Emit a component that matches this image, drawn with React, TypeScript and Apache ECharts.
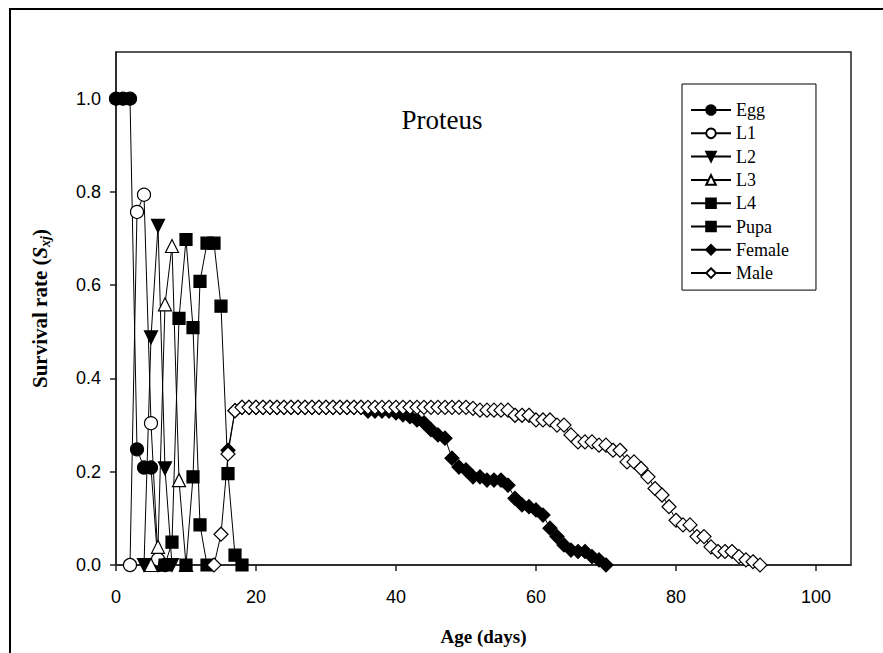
import React, { useEffect, useRef } from "react";
import * as echarts from "echarts";

// ---- data ----
const stageNames = ["Egg", "L1", "L2", "L3", "L4", "Pupa", "Female", "Male"];

const eggDays = [0, 1, 2, 3, 4, 5, 6];
const eggValues = [1, 1, 1, 0.248, 0.209, 0.209, 0];

const l1Days = [2, 3, 4, 5, 6, 7];
const l1Values = [0, 0.757, 0.794, 0.304, 0.012, 0];

const l2Days = [4, 5, 6, 7, 8];
const l2Values = [0, 0.488, 0.727, 0.207, 0];

const l3Days = [5, 6, 7, 8, 9, 10];
const l3Values = [0, 0.039, 0.559, 0.684, 0.182, 0];

const l4Days = [7, 8, 9, 10, 11, 12, 13];
const l4Values = [0, 0.049, 0.529, 0.698, 0.509, 0.086, 0];

const pupaDays = [10, 11, 12, 13, 14, 15, 16, 17, 18];
const pupaValues = [0, 0.189, 0.608, 0.69, 0.69, 0.555, 0.196, 0.021, 0];

const femaleStartDay = 16;
const femaleValues = [
  0.246, 0.331,
  0.338, 0.338, 0.338, 0.338, 0.338, 0.338, 0.338, 0.338, 0.338,
  0.338, 0.338, 0.338, 0.338, 0.338, 0.338, 0.338, 0.338, 0.338,
  0.33, 0.33, 0.33, 0.33, 0.326, 0.322, 0.318, 0.311, 0.305, 0.29,
  0.279, 0.272, 0.229, 0.21, 0.204, 0.189, 0.189, 0.182, 0.182, 0.182,
  0.171, 0.143, 0.129, 0.125, 0.118, 0.107, 0.079, 0.061, 0.043, 0.032,
  0.029, 0.029, 0.018, 0.011, 0,
];

const maleStartDay = 14;
const maleValues = [
  0, 0.066, 0.238, 0.331,
  0.338, 0.338, 0.338, 0.338, 0.338, 0.338, 0.338, 0.338, 0.338, 0.338, 0.338,
  0.338, 0.338, 0.338, 0.338, 0.338, 0.338, 0.338, 0.338, 0.338, 0.338, 0.338,
  0.338, 0.338, 0.338, 0.338, 0.338, 0.338, 0.338, 0.338, 0.338, 0.338, 0.338,
  0.336, 0.332, 0.332, 0.332, 0.332, 0.332, 0.321, 0.321, 0.321, 0.311,
  0.311, 0.311, 0.3, 0.3, 0.279, 0.264, 0.264, 0.264, 0.257, 0.257,
  0.246, 0.246, 0.221, 0.221, 0.207, 0.189, 0.164, 0.15, 0.125, 0.096,
  0.086, 0.086, 0.061, 0.061, 0.039, 0.029, 0.029, 0.029, 0.018, 0.011,
  0.007, 0,
];

const xTicks = [0, 20, 40, 60, 80, 100];
const yTicks = [0, 0.2, 0.4, 0.6, 0.8, 1.0];

const SERIF = "'Liberation Serif', 'Times New Roman', serif";
const SANS = "'Liberation Sans', Arial, sans-serif";

function pairs(days: number[], values: number[]) {
  return days.map((d, i) => [d, values[i]]);
}
function runPairs(start: number, values: number[]) {
  return values.map((v, i) => [start + i, v]);
}

function makeSeries(
  name: string,
  data: number[][],
  symbol: string,
  filled: boolean,
  size: number,
  rotate = 0
) {
  return {
    name,
    type: "line",
    data,
    symbol,
    symbolSize: size,
    symbolRotate: rotate,
    showAllSymbol: true,
    lineStyle: { color: "#000", width: 1 },
    itemStyle: {
      color: filled ? "#000" : "#fff",
      borderColor: "#000",
      borderWidth: 1.2,
    },
    emphasis: { disabled: true },
  };
}

export default function App() {
  const ref = useRef<HTMLDivElement>(null);
  useEffect(() => {
    if (!ref.current) return;
    const chart = echarts.init(ref.current, null, { renderer: "svg" });
    const option = {
      animation: false,
      backgroundColor: "#fff",
      grid: {
        left: 116,
        right: 32,
        top: 52,
        bottom: 88,
        show: true,
        borderColor: "#222",
        borderWidth: 1.5,
        backgroundColor: "transparent",
      },
      legend: {
        data: stageNames,
        orient: "vertical",
        left: 682,
        top: 84,
        padding: [17, 27, 8, 8],
        itemGap: 5.3,
        itemWidth: 40,
        itemHeight: 12,
        borderColor: "#000",
        borderWidth: 1,
        textStyle: {
          fontFamily: SERIF,
          fontSize: 18,
          color: "#000",
          lineHeight: 18,
        },
      },
      xAxis: {
        type: "value",
        min: 0,
        max: 105,
        name: "Age (days)",
        nameLocation: "middle",
        nameGap: 62,
        nameTextStyle: {
          fontFamily: SERIF,
          fontWeight: "bold",
          fontSize: 19,
          color: "#000",
        },
        axisLine: { show: true, lineStyle: { color: "#222", width: 1.5 } },
        axisTick: {
          show: true,
          inside: false,
          length: 6,
          customValues: xTicks,
          lineStyle: { color: "#222", width: 1.5 },
        },
        axisLabel: {
          customValues: xTicks,
          margin: 23,
          fontFamily: SANS,
          fontSize: 18,
          color: "#000",
        },
        splitLine: { show: false },
      },
      yAxis: {
        type: "value",
        min: 0,
        max: 1.1,
        name: "{a|Survival rate (}{s|S}{sub|xj}{a|)}",
        nameLocation: "middle",
        nameGap: 64,
        nameTextStyle: {
          rich: {
            a: {
              fontFamily: SERIF,
              fontWeight: "bold",
              fontSize: 21,
              color: "#000",
              lineHeight: 24,
            },
            s: {
              fontFamily: SERIF,
              fontWeight: "bold",
              fontStyle: "italic",
              fontSize: 21,
              color: "#000",
              lineHeight: 24,
            },
            sub: {
              fontFamily: SERIF,
              fontWeight: "bold",
              fontStyle: "italic",
              fontSize: 14,
              color: "#000",
              verticalAlign: "bottom",
              lineHeight: 15,
            },
          },
        },
        axisLine: { show: true, lineStyle: { color: "#222", width: 1.5 } },
        axisTick: {
          show: true,
          inside: false,
          length: 6,
          customValues: yTicks,
          lineStyle: { color: "#222", width: 1.5 },
        },
        axisLabel: {
          customValues: yTicks,
          margin: 15,
          fontFamily: SANS,
          fontSize: 18,
          color: "#000",
          formatter: (v: number) => v.toFixed(1),
        },
        splitLine: { show: false },
      },
      graphic: [
        {
          type: "rect",
          shape: { x: 10, y: 9, width: 900, height: 700 },
          style: { fill: "none", stroke: "#000", lineWidth: 2 },
          silent: true,
        },
        {
          type: "text",
          x: 442,
          y: 120,
          style: {
            text: "Proteus",
            font: `27px ${SERIF}`,
            fill: "#000",
            textAlign: "center",
            textVerticalAlign: "middle",
          },
          silent: true,
        },
      ],
      series: [
        makeSeries("Egg", pairs(eggDays, eggValues), "circle", true, 13),
        makeSeries("L1", pairs(l1Days, l1Values), "circle", false, 13),
        makeSeries("L2", pairs(l2Days, l2Values), "triangle", true, 13, 180),
        makeSeries("L3", pairs(l3Days, l3Values), "triangle", false, 13),
        makeSeries("L4", pairs(l4Days, l4Values), "rect", true, 12),
        makeSeries("Pupa", pairs(pupaDays, pupaValues), "rect", true, 12),
        makeSeries("Female", runPairs(femaleStartDay, femaleValues), "diamond", true, 14),
        makeSeries("Male", runPairs(maleStartDay, maleValues), "diamond", false, 14),
      ],
    };
    chart.setOption(option as any);
    return () => chart.dispose();
  }, []);
  return (
    <div
      ref={ref}
      style={{ position: "absolute", left: 0, top: 0, width: 883, height: 653 }}
    />
  );
}
